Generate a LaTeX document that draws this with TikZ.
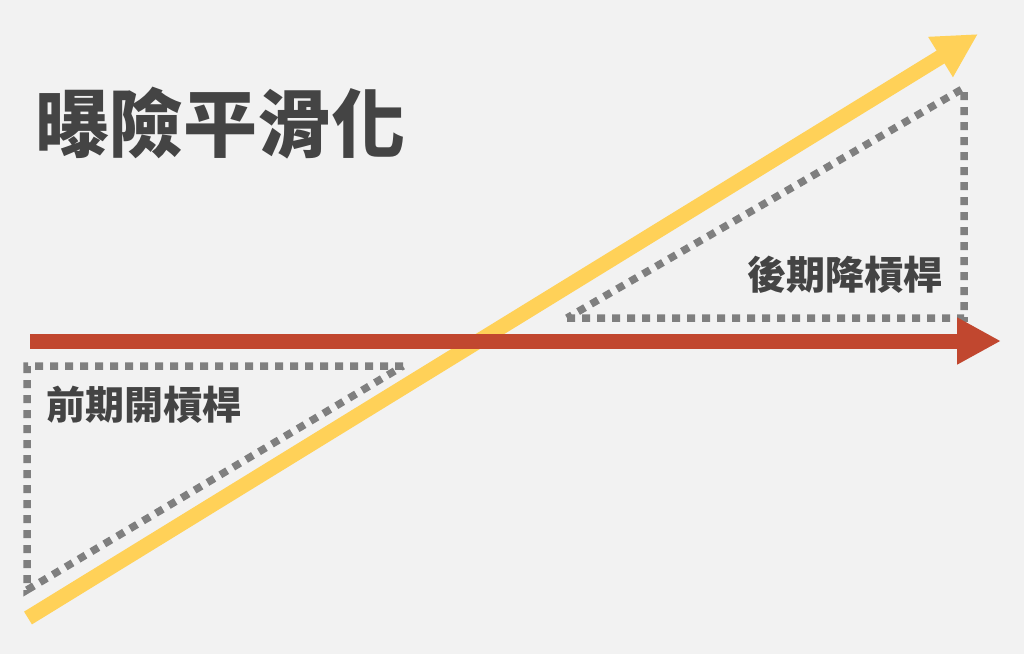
\documentclass[tikz,border=0pt]{standalone}
\usepackage{fontspec}
\usepackage{xcolor}
\usepackage{tikz}
\usetikzlibrary{positioning,arrows.meta}
\newfontfamily\cjk{Noto Sans CJK TC}
\definecolor{bgc}{HTML}{F2F2F2}
\definecolor{textc}{HTML}{444444}
\definecolor{expc}{HTML}{C1472F}
\definecolor{levc}{HTML}{FFD158}
\definecolor{dotc}{HTML}{7F7F7F}

\begin{document}
\begin{tikzpicture}[x=1pt,y=-1pt,
  bigarrow/.style={line width=15pt,-{Triangle[length=44pt,width=44pt]}},
  dotline/.style={dotc,line width=7.5pt,dash pattern=on 8pt off 7pt},
  label/.style={anchor=west,inner sep=0pt,text=textc,font=\cjk\bfseries\fontsize{39pt}{44pt}\selectfont}]
  \fill[bgc] (0,0) rectangle (1024,654);
  \useasboundingbox (0,0) rectangle (1024,654);
  % title
  \node[anchor=west,inner sep=0pt,text=textc,font=\cjk\bfseries\fontsize{74pt}{80pt}\selectfont] (title) at (35,123) {曝險平滑化};
  % dotted triangles
  \coordinate (la) at (27,366);
  \coordinate (lb) at (403,366);
  \coordinate (lc) at (27,590);
  \draw[dotline] (lb) -- (la) -- (lc) -- cycle;
  \coordinate (ra) at (567,318);
  \coordinate (rb) at (964,318);
  \coordinate (rc) at (964,88);
  \draw[dotline] (ra) -- (rb) -- (rc) -- cycle;
  % arrows, red on top
  \coordinate (ys) at (28,618);
  \coordinate (ye) at (978,34);
  \draw[bigarrow,levc] (ys) -- (ye);
  \coordinate (xs) at (30,341);
  \coordinate (xe) at (1001,341);
  \draw[bigarrow,expc] (xs) -- (xe);
  % labels
  \node[label] (early) at (46,405) {前期開槓桿};
  \node[label] (late) at (747,275) {後期降槓桿};
\end{tikzpicture}
\end{document}
